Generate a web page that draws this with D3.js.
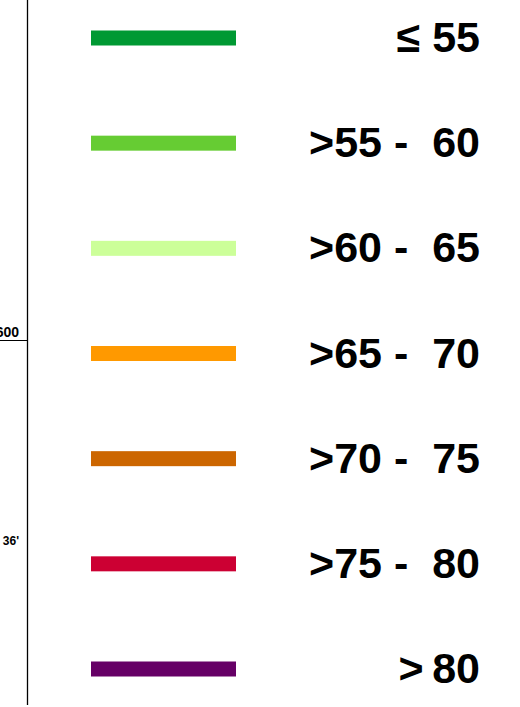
<!DOCTYPE html>
<html>
<head>
<meta charset="utf-8">
<script src="https://cdn.jsdelivr.net/npm/d3@7"></script>
<style>
  body { margin: 0; background: #fff; }
  text { font-family: "Liberation Sans", Arial, sans-serif; font-weight: bold; }
</style>
</head>
<body>
<div id="chart"></div>
<script>
var w = 520,
    h = 707;

// legend classes
var labels = ["\u2264 55", ">55 -  60", ">60 -  65", ">65 -  70", ">70 -  75", ">75 -  80", ">\u200980"];
var colors = ["#009933", "#66cc33", "#ccff99", "#ff9900", "#cc6600", "#cc0033", "#660066"];

// bits of the neighbouring panel that got cut off
var sideLabels = ["600", "36'"];
var sideY = [337, 545];

var svg = d3.select("#chart").append("svg")
    .attr("width", w)
    .attr("height", h);

var y = d3.scalePoint()
    .domain(labels)
    .range([38, 669]);

var rows = svg.selectAll("g.row")
    .data(labels)
    .enter().append("g")
    .attr("class", "row")
    .attr("transform", d => "translate(0," + y(d) + ")");

rows.append("rect")
    .attr("x", 91)
    .attr("y", -7.5)
    .attr("width", 145)
    .attr("height", 15)
    .attr("fill", (d, i) => colors[i]);

rows.append("text")
    .attr("x", 480)
    .attr("y", 14)
    .attr("text-anchor", "end")
    .style("font-size", "43px")
    .style("white-space", "pre")
    .attr("xml:space", "preserve")
    .text(d => d);

// axis line on the left
svg.append("line")
    .attr("x1", 27.5).attr("x2", 27.5)
    .attr("y1", 0).attr("y2", 705)
    .attr("stroke", "#000")
    .attr("stroke-width", 1.3);

svg.append("line")
    .attr("x1", 0).attr("x2", 27)
    .attr("y1", 340.5).attr("y2", 340.5)
    .attr("stroke", "#000")
    .attr("stroke-width", 1);

svg.selectAll("text.side")
    .data(sideLabels)
    .enter().append("text")
    .attr("class", "side")
    .attr("x", 19)
    .attr("y", (d, i) => sideY[i])
    .attr("text-anchor", "end")
    .style("font-size", (d, i) => i == 0 ? "14px" : "12px")
    .text(d => d);
</script>
</body>
</html>
